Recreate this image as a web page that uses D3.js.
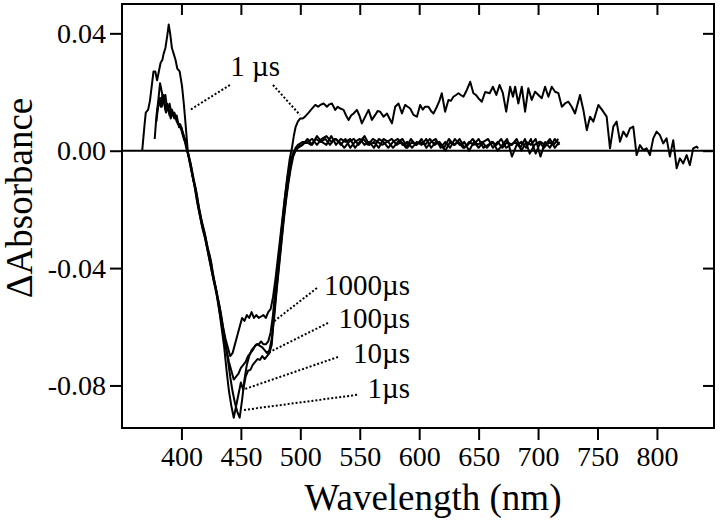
<!DOCTYPE html>
<html><head><meta charset="utf-8">
<script src="https://cdn.jsdelivr.net/npm/d3@7"></script>
<style>body{margin:0;background:#fff}svg{display:block}</style>
</head><body>
<svg id="chart" width="720" height="527"></svg>
<script>
// ---------------- DATA ----------------
const xTicks = [400, 450, 500, 550, 600, 650, 700, 750, 800];
const yTicks = [-0.08, -0.04, 0.00, 0.04];

// 1 µs spectrum  [wavelength nm, ΔA]
const s1us = [
[367,0.000],[369,0.009],[370,0.013],[372,0.014],[373.5,0.017],[375,0.022],[376.5,0.027],[378,0.027],[379.5,0.024],[381,0.027],
[382.5,0.030],[384,0.031],[385,0.033],[386.5,0.035],[388,0.039],[389.3,0.043],[390.5,0.040],[392,0.035],[393.5,0.033],[395,0.031],
[396.5,0.028],[398.5,0.027],[400.5,0.022],[402,0.016],[403.5,0.009],[405.3,0.000],[407,-0.004],[409,-0.008],[411,-0.012],[413,-0.017],
[415,-0.021],[417,-0.025],[419,-0.028],[421,-0.032],[423,-0.036],[425,-0.040],[427,-0.044],[429,-0.047],[431,-0.052],[433,-0.057],
[435,-0.062],[437,-0.066],[439,-0.071],[441,-0.077],[443,-0.082],[445,-0.086],[447,-0.089],[449,-0.091],[451,-0.085],[453,-0.078],
[455,-0.073],[457,-0.070],[459,-0.068],[461,-0.067],[463,-0.066],[465,-0.066],[467,-0.065],[469,-0.066],[471,-0.066],[473,-0.065],
[475,-0.062],[477,-0.056],[479,-0.047],[481,-0.040],[483,-0.032],[485,-0.024],[487,-0.016],[489,-0.009],[491,-0.003],[493,0.001],
[494.5,0.005],[496,0.008],[498,0.010],[500,0.011],[502,0.011],[504,0.0116],[507,0.013],[510,0.0144],[512.6,0.0156],[515,0.015],
[516.8,0.0156],[519.6,0.0161],[522.4,0.015],[524.5,0.0158],[526.6,0.0161],[529.4,0.0139],[531.5,0.015],[533.6,0.0144],[536.4,0.0139],[538.5,0.012],
[540.6,0.0105],[542.7,0.012],[544.8,0.0127],[547.6,0.0139],[549.7,0.012],[551.8,0.0093],[554.6,0.0116],[557.4,0.0139],[560.2,0.0105],[563,0.0122],
[565,0.0135],[567.2,0.0133],[570,0.0116],[572.9,0.0127],[575,0.011],[577.1,0.0093],[579.8,0.015],[582.6,0.0161],[585.5,0.0127],[588.2,0.0156],
[590.3,0.015],[592.4,0.0144],[595.2,0.0122],[598.1,0.0116],[600.8,0.0156],[603,0.014],[605,0.015],[607.8,0.015],[610,0.0135],[612,0.0127],
[614.9,0.015],[617,0.017],[619,0.0196],[621.8,0.0133],[624.6,0.0173],[626.7,0.017],[628.8,0.0184],[631,0.019],[633,0.0196],[635,0.019],
[637.2,0.0184],[640.1,0.0207],[642.9,0.0235],[645.6,0.0196],[647.7,0.019],[649.8,0.0179],[652.7,0.0167],[655.5,0.020],[659.3,0.0196],[662,0.0218],
[664.9,0.019],[667.6,0.0224],[670.4,0.0196],[673.2,0.0133],[676.5,0.0218],[678.9,0.0184],[680.7,0.0218],[683.4,0.0161],[686.3,0.0218],[689.1,0.0133],
[691.8,0.0213],[694.7,0.0173],[697.5,0.0201],[700.3,0.019],[703.1,0.0179],[705.9,0.0218],[708.7,0.0184],[711.5,0.0218],[714.3,0.0201],[717.1,0.0196],
[720,0.015],[722.7,0.0161],[725.5,0.0167],[728.3,0.015],[731.1,0.0127],[735.3,0.019],[738.1,0.0139],[741,0.007],[743.7,0.0116],[746.5,0.0099],
[750.7,0.0156],[754.9,0.0133],[757.7,0.0116],[760.5,0.0008],[763.3,0.0082],[766.1,0.0099],[768.9,0.0031],[771.7,0.0065],[774.5,0.0048],[777.3,0.0076],
[780.1,0.0082],[782.9,-0.0015],[785.7,0.0019],[788.5,0.0002],[791.3,0.0008],[794.1,-0.0015],[796.9,0.0042],[799.7,0.0065],[802.5,0.0053],[805.3,0.0025],
[808.1,0.0042],[810.9,-0.002],[813.7,0.0036],[816.6,-0.006],[819.3,-0.0026],[822.1,-0.0043],[825,-0.0015],[827.7,-0.0049],[830.5,0.0008],[833.4,0.0014],
[834.7,0.0008]
];

// 10 µs spectrum
const s10us = [
[377.5,0.004],[379,0.012],[380.5,0.017],[382,0.023],[383.5,0.020],[385,0.017],[386.5,0.019],[388,0.014],[390,0.016],[392,0.012],
[394,0.013],[396,0.010],[398,0.009],[400,0.007],[402,0.004],[404,0.002],[406,-0.002],[408,-0.006],[410,-0.010],[412,-0.014],
[414,-0.019],[416,-0.023],[418,-0.027],[420,-0.030],[422,-0.034],[424,-0.038],[426,-0.042],[428,-0.046],[430,-0.050],[432,-0.055],
[434,-0.061],[436,-0.067],[438,-0.075],[440,-0.082],[442,-0.087],[444,-0.091],[446,-0.087],[448,-0.083],[450,-0.079],[452,-0.0815],
[454,-0.077],[456,-0.075],[458,-0.0747],[460,-0.073],[462,-0.072],[464,-0.071],[466,-0.0713],[468,-0.070],[470,-0.071],[472,-0.070],
[474,-0.069],[476,-0.066],[478,-0.055],[480,-0.047],[482,-0.039],[484,-0.031],[486,-0.023],[488,-0.016],[490,-0.010],[492,-0.005],
[494,-0.001],[496,0.001],[498,0.002],[502,0.003],[506,0.003],[510,0.004],[514,0.002],[518,0.004],[522,0.005],[526,0.003],
[530,0.004],[534,0.002],[538,0.004],[542,0.001],[546,0.003],[550,0.004],[554,0.002],[558,0.003],[562,0.001],[566,0.004],
[570,0.003],[574,0.001],[578,0.003],[582,0.004],[586,0.002],[590,0.003],[594,0.001],[598,0.003],[602,0.002],[606,0.004],
[610,0.001],[614,0.003],[618,0.002],[622,0.000],[626,0.003],[630,0.002],[634,0.004],[638,0.001],[642,0.003],[646,0.002],
[650,0.004],[654,0.001],[658,0.002],[662,0.003],[666,0.000],[670,0.002],[674,0.004],[678,-0.002],[682,0.002],[686,0.003],
[690,0.001],[694,0.004],[698,-0.001],[702,0.003],[706,0.002],[710,0.004],[714,0.001],[718,0.003]
];

// 100 µs spectrum
const s100us = [
[379,0.010],[380.5,0.016],[382,0.018],[383.5,0.015],[385,0.019],[386.5,0.014],[388,0.016],[390,0.012],[392,0.014],[394,0.011],
[396,0.012],[398,0.008],[400,0.008],[402,0.005],[404,0.001],[406,-0.002],[408,-0.005],[410,-0.010],[412,-0.013],[414,-0.018],
[416,-0.022],[418,-0.026],[420,-0.029],[422,-0.033],[424,-0.036],[426,-0.041],[428,-0.045],[430,-0.049],[432,-0.053],[434,-0.058],
[436,-0.063],[438,-0.068],[440,-0.072],[442,-0.075],[444,-0.078],[446,-0.077],[448,-0.076],[450,-0.074],[452,-0.073],[454,-0.072],
[456,-0.070],[458,-0.069],[460,-0.068],[462,-0.0665],[464,-0.066],[466,-0.0665],[468,-0.067],[470,-0.068],[472,-0.069],[474,-0.068],
[476,-0.064],[478,-0.057],[480,-0.048],[482,-0.040],[484,-0.032],[486,-0.024],[488,-0.017],[490,-0.011],[492,-0.006],[494,-0.002],
[496,0.000],[498,0.001],[502,0.002],[506,0.004],[510,0.002],[514,0.005],[518,0.003],[522,0.002],[526,0.005],[530,0.002],
[534,0.004],[538,0.003],[542,0.004],[546,0.001],[550,0.003],[554,0.005],[558,0.002],[562,0.003],[566,0.001],[570,0.004],
[574,0.003],[578,0.001],[582,0.003],[586,0.004],[590,0.001],[594,0.003],[598,0.002],[602,0.004],[606,0.001],[610,0.003],
[614,0.004],[618,0.001],[622,0.003],[626,0.001],[630,0.004],[634,0.002],[638,0.003],[642,0.000],[646,0.003],[650,0.001],
[654,0.003],[658,0.004],[662,0.001],[666,0.003],[670,0.001],[674,0.003],[678,0.002],[682,0.004],[686,0.000],[690,0.003],
[694,0.002],[698,0.004],[702,-0.002],[706,0.003],[710,0.001],[714,0.004],[718,0.002]
];

// 1000 µs spectrum
const s1000us = [
[379.5,0.013],[381,0.017],[382.5,0.015],[384,0.019],[385.5,0.016],[387,0.013],[389,0.015],[391,0.011],[393,0.013],[395,0.012],
[397,0.009],[399,0.009],[401,0.006],[403,0.004],[405,0.000],[407,-0.003],[409,-0.007],[411,-0.011],[413,-0.015],[415,-0.020],
[417,-0.024],[419,-0.027],[421,-0.031],[423,-0.035],[425,-0.038],[427,-0.043],[429,-0.047],[431,-0.051],[433,-0.055],[435,-0.060],
[437,-0.064],[439,-0.067],[441,-0.070],[443,-0.069],[445,-0.066],[447,-0.063],[449,-0.060],[451,-0.057],[453,-0.058],[455,-0.056],
[457,-0.057],[459,-0.055],[461,-0.057],[463,-0.056],[465,-0.057],[467,-0.0565],[469,-0.056],[471,-0.057],[473,-0.055],[475,-0.054],
[477,-0.050],[479,-0.044],[481,-0.037],[483,-0.030],[485,-0.023],[487,-0.016],[489,-0.010],[491,-0.005],[493,-0.002],[495,0.000],
[497,0.001],[501,0.002],[505,0.003],[509,0.002],[513,0.004],[517,0.003],[521,0.004],[525,0.002],[529,0.004],[533,0.003],
[537,0.001],[541,0.003],[545,0.004],[549,0.002],[553,0.004],[557,0.002],[561,0.004],[565,0.003],[569,0.002],[573,0.003],
[577,0.004],[581,0.002],[585,0.003],[589,0.001],[593,0.004],[597,0.002],[601,0.003],[605,0.002],[609,0.004],[613,0.002],
[617,0.003],[621,0.001],[625,0.004],[629,0.002],[633,0.003],[637,0.001],[641,0.002],[645,0.004],[649,0.002],[653,0.003],
[657,0.001],[661,0.003],[665,0.002],[669,0.004],[673,0.001],[677,0.002],[681,0.003],[685,0.001],[689,0.004],[693,-0.001],
[697,0.002],[701,0.003],[705,0.001],[709,0.003],[713,0.002],[717,0.004]
];

// annotation labels (data units) : text, anchor point, leader lines
const topLabel = {text: "1 µs", at: [462, 0.0254]};
const topLeaders = [[[440.8, 0.0224], [407.2, 0.0139]], [[477, 0.0224], [499.7, 0.0122]]];
const sideLabels = ["1000µs", "100µs", "10µs", "1µs"];
const sideLabelPos = [[592.3, -0.0492], [592.3, -0.0604], [592.3, -0.0723], [592.3, -0.0843]];
const sideLeaders = [
  [[514, -0.0468], [477, -0.0584]],
  [[523.3, -0.0587], [472.8, -0.0689]],
  [[531.7, -0.0703], [453.5, -0.0812]],
  [[547.7, -0.0832], [451.8, -0.0884]]
];

// ---------------- CHART ----------------
const W = 720, H = 527;
const m = {left: 122, right: 6, top: 4, bottom: 99};
const FONT = "'Liberation Serif','Times New Roman',serif";
const svg = d3.select("#chart");

const x = d3.scaleLinear().domain([350, 848]).range([m.left, W - m.right]);
const y = d3.scaleLinear().domain([-0.0945, 0.05]).range([H - m.bottom, m.top]);

const fmt = d => d.toFixed(2);

// axes
const gB = svg.append("g").attr("transform", `translate(0,${y.range()[0]})`)
  .call(d3.axisBottom(x).tickValues(xTicks).tickSize(12).tickPadding(6).tickFormat(d3.format("d")));
const gT = svg.append("g").attr("transform", `translate(0,${y.range()[1]})`)
  .call(d3.axisTop(x).tickValues(xTicks).tickSize(-11).tickFormat(""));
const gL = svg.append("g").attr("transform", `translate(${x.range()[0]},0)`)
  .call(d3.axisLeft(y).tickValues(yTicks).tickSize(12).tickPadding(4).tickFormat(fmt));
const gR = svg.append("g").attr("transform", `translate(${x.range()[1]},0)`)
  .call(d3.axisRight(y).tickValues(yTicks).tickSize(-11).tickFormat(""));

[gB, gT, gL, gR].forEach(g => {
  g.select(".domain").remove();
  g.selectAll(".tick line").attr("stroke", "#000").attr("stroke-width", 2);
  g.selectAll("text").attr("font-family", FONT).attr("font-size", 28).attr("fill", "#000");
});

// frame
svg.append("rect")
  .attr("x", x.range()[0]).attr("y", y.range()[1])
  .attr("width", x.range()[1] - x.range()[0]).attr("height", y.range()[0] - y.range()[1])
  .attr("fill", "none").attr("stroke", "#000").attr("stroke-width", 2);

// zero line
svg.append("line")
  .attr("x1", x.range()[0]).attr("x2", x.range()[1])
  .attr("y1", y(0)).attr("y2", y(0))
  .attr("stroke", "#000").attr("stroke-width", 2);

// curves
const line = d3.line().x(d => x(d[0])).y(d => y(d[1]));
[s1000us, s100us, s10us, s1us].forEach(s => {
  svg.append("path").datum(s).attr("d", line)
    .attr("fill", "none").attr("stroke", "#000").attr("stroke-width", 2)
    .attr("stroke-linejoin", "round");
});

// leaders
const leaderAll = topLeaders.concat(sideLeaders);
svg.append("g").selectAll("line").data(leaderAll).join("line")
  .attr("x1", d => x(d[0][0])).attr("y1", d => y(d[0][1]))
  .attr("x2", d => x(d[1][0])).attr("y2", d => y(d[1][1]))
  .attr("stroke", "#000").attr("stroke-width", 2).attr("stroke-dasharray", "2,2");

// labels
svg.append("text").attr("x", x(topLabel.at[0])).attr("y", y(topLabel.at[1]))
  .attr("text-anchor", "middle").attr("font-family", FONT).attr("font-size", 29)
  .text(topLabel.text);
svg.append("g").selectAll("text").data(sideLabels).join("text")
  .attr("x", (d, i) => x(sideLabelPos[i][0])).attr("y", (d, i) => y(sideLabelPos[i][1]))
  .attr("text-anchor", "end").attr("font-family", FONT).attr("font-size", 29)
  .text(d => d);

// axis titles
svg.append("text").attr("x", 433).attr("y", 510)
  .attr("text-anchor", "middle").attr("font-family", FONT).attr("font-size", 37)
  .text("Wavelength (nm)");
svg.append("text").attr("transform", "translate(32,198) rotate(-90)")
  .attr("text-anchor", "middle").attr("font-family", FONT).attr("font-size", 37)
  .text("ΔAbsorbance");
</script>
</body></html>
